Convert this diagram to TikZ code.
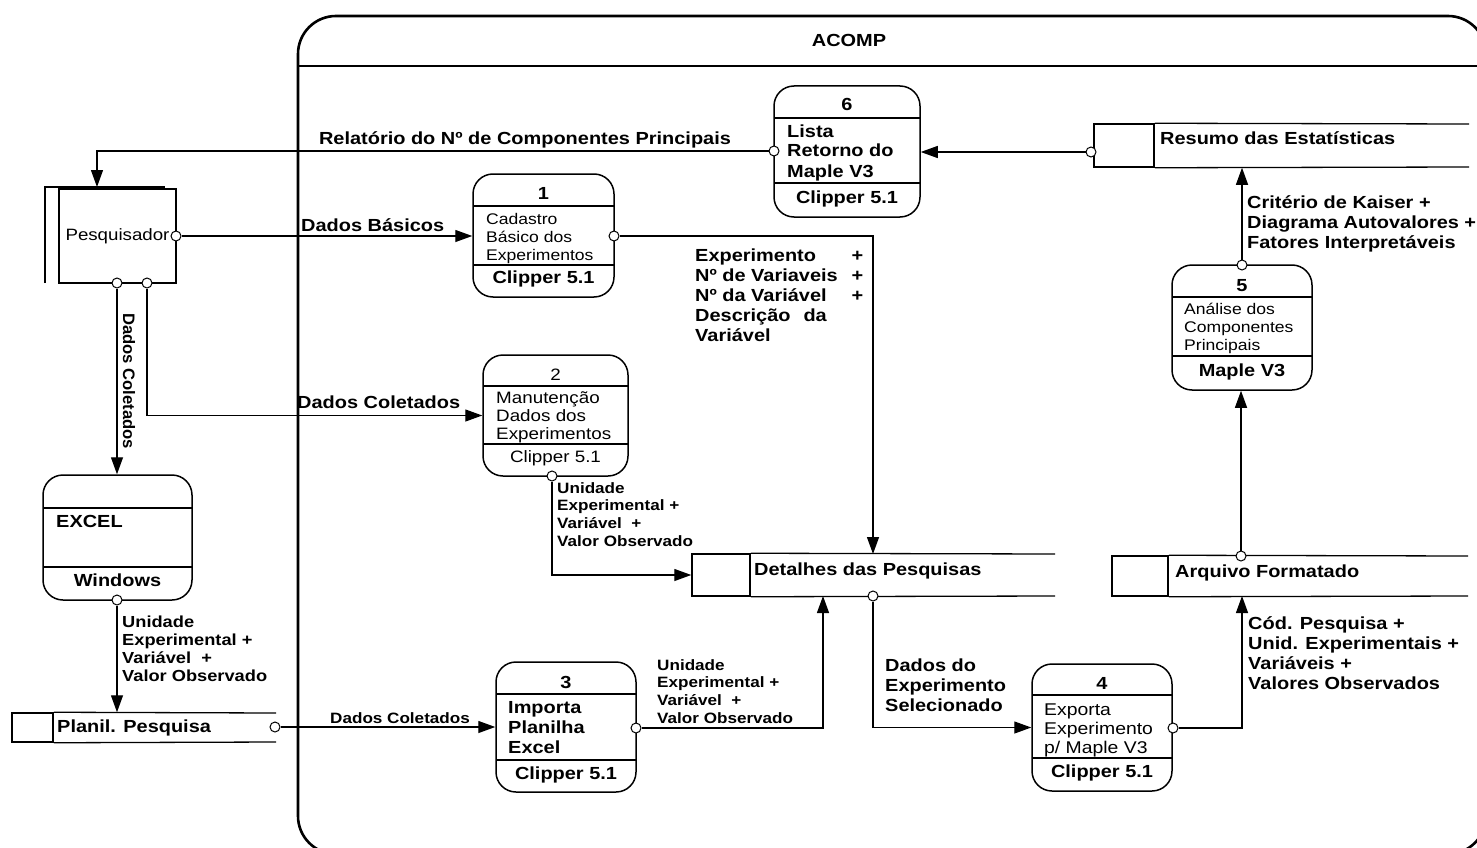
\documentclass[tikz,border=0pt]{standalone}
\usepackage{fontspec}
\setmainfont{Liberation Sans}[FakeStretch=1.14]
\newfontfamily\rotfont{Liberation Sans}
\usepackage{tikz}
\usetikzlibrary{arrows.meta}
\tikzset{>={Triangle[length=17pt,width=12pt]}}

\newcommand{\lblbig}{\fontsize{17.5}{20}\selectfont\bfseries}
\newcommand{\lblmid}{\fontsize{16}{18}\selectfont\bfseries}
\newcommand{\lblsmall}{\fontsize{15}{17.7}\selectfont\bfseries}
\newcommand{\txtreg}{\fontsize{15.4}{18.2}\selectfont}
\newcommand{\stackl}[1]{\begin{tabular}[t]{@{}l@{}}#1\end{tabular}}

\tikzset{
  frame/.style={line width=2.6pt, rounded corners=38pt},
  flow/.style={line width=1.3pt},
  divline/.style={line width=1.3pt},
  proc/.style={draw, line width=1.5pt, rounded corners=20pt, inner sep=0pt},
  port/.style={draw, circle, fill=white, line width=1pt, minimum size=10pt, inner sep=0pt},
  storebox/.style={draw, line width=1.5pt, inner sep=0pt},
  lbl/.style={anchor=base west, inner sep=0pt},
  mid/.style={anchor=base, inner sep=0pt}
}

\begin{document}
\begin{tikzpicture}[x=1pt, y=-1pt]

\useasboundingbox (0,0) rectangle (1477,848);

\begin{scope}
\clip (0,0) rectangle (1477,848);
\draw[frame] (298,16) rectangle (1486,854);
\end{scope}

\draw[line width=2.6pt] (298,66) -- (1477,66);

\node[mid, font=\lblbig] (acomp) at (849,47) {ACOMP};

\node[draw, line width=1.3pt, minimum width=117pt, minimum height=94pt, inner sep=0pt, font=\fontsize{16.4}{19}\selectfont] (pes) at (117.5,236) {Pesquisador};
\draw[line width=2.2pt] (45,283) -- (45,187) -- (165,187);

\node[proc, minimum width=141pt, minimum height=123pt] (p1) at (543.5,235.5) {};
\draw[divline] (473,206) -- (614,206);
\draw[divline] (473,265) -- (614,265);
\node[mid, font=\lblbig] (p1n) at (543.5,199) {1};
\node[lbl, font=\txtreg] (p1t) at (486,224) {\stackl{Cadastro\\Básico dos\\Experimentos}};
\node[mid, font=\lblbig] (p1s) at (543.5,283) {Clipper 5.1};

\node[proc, minimum width=145pt, minimum height=121pt] (p2) at (555.5,415.5) {};
\draw[divline] (483,386) -- (628,386);
\draw[divline] (483,444) -- (628,444);
\node[mid, font=\fontsize{16.5}{18}\selectfont] (p2n) at (555.5,380) {2};
\node[lbl, font=\fontsize{16.5}{18}\selectfont] (p2t) at (496,403) {\stackl{Manutenção\\Dados dos\\Experimentos}};
\node[mid, font=\fontsize{16.5}{18}\selectfont] (p2s) at (555.5,462) {Clipper 5.1};

\node[proc, minimum width=140pt, minimum height=130pt] (p3) at (566,727) {};
\draw[divline] (496,694) -- (636,694);
\draw[divline] (496,760) -- (636,760);
\node[mid, font=\lblbig] (p3n) at (566,688) {3};
\node[lbl, font=\lblbig] (p3t) at (508,713) {\stackl{Importa\\Planilha\\Excel}};
\node[mid, font=\lblbig] (p3s) at (566,779) {Clipper 5.1};

\node[proc, minimum width=140pt, minimum height=127pt] (p4) at (1102,727.5) {};
\draw[divline] (1032,695) -- (1172,695);
\draw[divline] (1032,758) -- (1172,758);
\node[mid, font=\lblbig] (p4n) at (1102,689) {4};
\node[lbl, font=\fontsize{17}{19}\selectfont] (p4t) at (1044,715) {\stackl{Exporta\\Experimento\\p/ Maple V3}};
\node[mid, font=\lblbig] (p4s) at (1102,777) {Clipper 5.1};

\node[proc, minimum width=140pt, minimum height=125pt] (p5) at (1242,327.5) {};
\draw[divline] (1172,297) -- (1312,297);
\draw[divline] (1172,356) -- (1312,356);
\node[mid, font=\lblbig] (p5n) at (1242,291) {5};
\node[lbl, font=\txtreg] (p5t) at (1184,314) {\stackl{Análise dos\\Componentes\\Principais}};
\node[mid, font=\lblbig] (p5s) at (1242,376) {Maple V3};

\node[proc, minimum width=146pt, minimum height=131pt] (p6) at (847,151.5) {};
\draw[divline] (774,118) -- (920,118);
\draw[divline] (774,183) -- (920,183);
\node[mid, font=\lblbig] (p6n) at (847,111) {6};
\node[lbl, font=\lblbig] (p6t) at (787,137) {\stackl{Lista\\Retorno do\\Maple V3}};
\node[mid, font=\lblbig] (p6s) at (847,203) {Clipper 5.1};

\node[proc, minimum width=149pt, minimum height=125pt] (excel) at (117.5,537.5) {};
\draw[divline] (43,508) -- (192,508);
\draw[divline] (43,567) -- (192,567);
\node[lbl, font=\lblbig] (excelt) at (56,527) {EXCEL};
\node[mid, font=\lblbig] (excels) at (117.5,586) {Windows};

\node[storebox, minimum width=60pt, minimum height=43pt] (res) at (1124,145.5) {};
\draw[divline] (res.north east) -- (1469,124);
\draw[divline] (res.south east) -- (1469,167);
\node[lbl, font=\lblbig] (rest) at (1160,145) {Resumo das Estatísticas};

\node[storebox, minimum width=56pt, minimum height=40pt] (arq) at (1140,576) {};
\draw[divline] (arq.north east) -- (1468,556);
\draw[divline] (arq.south east) -- (1468,596);
\node[lbl, font=\lblbig] (arqt) at (1175,577) {Arquivo Formatado};

\node[storebox, minimum width=58pt, minimum height=42pt] (det) at (721,575) {};
\draw[divline] (det.north east) -- (1055,554);
\draw[divline] (det.south east) -- (1055,596);
\node[lbl, font=\lblbig] (dett) at (754,575) {Detalhes das Pesquisas};

\node[storebox, minimum width=41pt, minimum height=29pt] (pla) at (32.5,727.5) {};
\draw[divline] (pla.north east) -- (276,713);
\draw[divline] (pla.south east) -- (276,742);
\node[lbl, font=\lblbig] (plat) at (57,732) {Planil. Pesquisa};

\node[port] (cpR) at (176,236) {};
\node[port] (cpB1) at (117,283) {};
\node[port] (cpB2) at (147,283) {};
\node[port] (c1) at (614,236) {};
\node[port] (c2) at (552,476) {};
\node[port] (c3) at (636,728) {};
\node[port] (c4) at (1173,728) {};
\node[port] (c5) at (1242,265) {};
\node[port] (c6) at (774,151) {};
\node[port] (cres) at (1091,152) {};
\node[port] (carq) at (1241,556) {};
\node[port] (cdet) at (873,596) {};
\node[port] (cex) at (117,600) {};
\node[port] (cpla) at (275,727) {};

\coordinate (pesIn) at (97,187);
\coordinate (detIn1) at (873,554);
\coordinate (detIn2) at (823,596);
\coordinate (arqIn) at (1242,596);

\draw[flow, ->] (c6.west) -| (pesIn);
\draw[flow, ->] (cpR.east) -- (cpR.east -| p1.west);
\draw[flow, ->] (cpB2.south) |- (p2.west);
\draw[flow, ->] (cpB1.south) -- (cpB1.south |- excel.north);
\draw[flow, ->] (cex.south) -- (cex.south |- pla.north);
\draw[flow, ->] (cpla.east) -- (cpla.east -| p3.west);
\draw[flow, ->] (c1.east) -| (detIn1);
\draw[flow, ->] (c2.south) |- (det.west);
\draw[flow, ->] (c3.east) -| (detIn2);
\draw[flow, ->] (cdet.south) |- (p4.west);
\draw[flow, ->] (c4.east) -| (arqIn);
\draw[flow, ->] (carq.north) -- (carq.north |- p5.south);
\draw[flow, ->] (c5.north) -- (c5.north |- res.south);
\draw[flow, ->] (cres.west) -- (cres.west -| p6.east);

\node[mid, font=\lblbig] (lrel) at (525,144) {Relatório do Nº de Componentes Principais};
\node[lbl, font=\lblbig] (lbas) at (301,231) {Dados Básicos};
\node[lbl, font=\lblbig] (lcol1) at (297,408) {Dados Coletados};
\node[lbl, rotate=-90, font=\rotfont\fontsize{16.6}{19}\selectfont\bfseries] (lcol2) at (123,313) {Dados Coletados};
\node[lbl, font=\lblmid] (lexc) at (122,627) {\stackl{Unidade\\Experimental +\\Variável~~+\\Valor Observado}};
\node[lbl, font=\lblsmall] (lcol3) at (330,723) {Dados Coletados};
\node[lbl, font=\lblsmall] (lp2) at (557,493) {\stackl{Unidade\\Experimental +\\Variável~~+\\Valor Observado}};
\node[lbl, font=\lblsmall] (lp3) at (657,670) {\stackl{Unidade\\Experimental +\\Variável~~+\\Valor Observado}};
\node[lbl, font=\lblbig] (lexp) at (695,261) {\begin{tabular}[t]{@{}p{168pt}@{}}Experimento\hfill+\\Nº de Variaveis\hfill+\\Nº da Variável\hfill+\\Descrição\hspace{13pt}da\\Variável\end{tabular}};
\node[lbl, font=\lblbig] (lsel) at (885,671) {\stackl{Dados do\\Experimento\\Selecionado}};
\node[lbl, font=\lblbig] (lcod) at (1248,629) {\stackl{Cód. Pesquisa +\\Unid. Experimentais +\\Variáveis +\\Valores Observados}};
\node[lbl, font=\lblbig] (lkai) at (1247,208) {\stackl{Critério de Kaiser +\\Diagrama Autovalores +\\Fatores Interpretáveis}};

\end{tikzpicture}
\end{document}
